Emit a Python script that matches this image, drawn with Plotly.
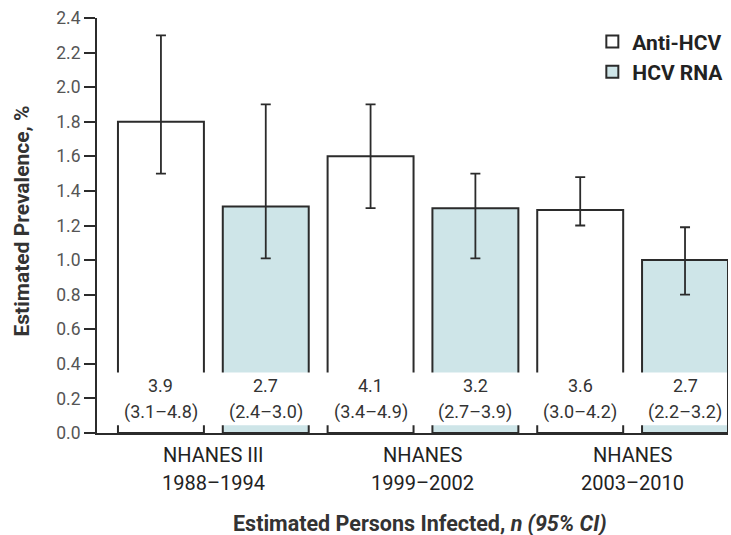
import plotly.graph_objects as go

group_names = ["NHANES III", "NHANES", "NHANES"]
group_years = ["1988–1994", "1999–2002", "2003–2010"]
groups = [f"{n} {y}" for n, y in zip(group_names, group_years)]
anti_hcv = [1.8, 1.6, 1.29]
anti_hcv_hi = [2.3, 1.9, 1.48]
anti_hcv_lo = [1.5, 1.3, 1.2]
hcv_rna = [1.31, 1.3, 1.0]
hcv_rna_hi = [1.9, 1.5, 1.19]
hcv_rna_lo = [1.01, 1.01, 0.8]
anti_n = ["3.9", "4.1", "3.6"]
anti_ci = ["(3.1–4.8)", "(3.4–4.9)", "(3.0–4.2)"]
rna_n = ["2.7", "3.2", "2.7"]
rna_ci = ["(2.4–3.0)", "(2.7–3.9)", "(2.2–3.2)"]
y_ticks = [0.0, 0.2, 0.4, 0.6, 0.8, 1.0, 1.2, 1.4, 1.6, 1.8, 2.0, 2.2, 2.4]

FONT = "Roboto"
DARK = "#2b2b2b"
BLUE = "rgb(206,229,232)"

fig = go.Figure()
fig.add_trace(go.Bar(
    name="Anti-HCV", x=groups, y=anti_hcv, legendgroup="a",
    marker=dict(color="white", line=dict(color=DARK, width=2)),
    error_y=dict(type="data", symmetric=False,
                 array=[h - v for h, v in zip(anti_hcv_hi, anti_hcv)],
                 arrayminus=[v - l for v, l in zip(anti_hcv, anti_hcv_lo)],
                 color=DARK, thickness=1.8, width=5),
))
fig.add_trace(go.Bar(
    name="HCV RNA", x=groups, y=hcv_rna, legendgroup="b",
    marker=dict(color=BLUE, line=dict(color=DARK, width=2)),
    error_y=dict(type="data", symmetric=False,
                 array=[h - v for h, v in zip(hcv_rna_hi, hcv_rna)],
                 arrayminus=[v - l for v, l in zip(hcv_rna, hcv_rna_lo)],
                 color=DARK, thickness=1.8, width=5),
))

# white band behind the count labels
fig.add_shape(type="rect", xref="x", yref="y", x0=-0.5, x1=2.45, y0=0.045, y1=0.35,
              fillcolor="white", line=dict(width=0), layer="above")

annotations = []
off = 0.25
for i in range(3):
    for dx, n, ci in ((-off, anti_n[i], anti_ci[i]), (off, rna_n[i], rna_ci[i])):
        annotations.append(dict(x=i + dx, y=0.272, xref="x", yref="y", text=n, showarrow=False,
                                font=dict(family=FONT, size=18, color="#333")))
        annotations.append(dict(x=i + dx, y=0.121, xref="x", yref="y", text=ci, showarrow=False,
                                font=dict(family=FONT, size=18, color="#333")))
    annotations.append(dict(x=groups[i], xref="x", y=-0.053, yref="paper", yanchor="middle",
                            text=group_names[i], showarrow=False,
                            font=dict(family=FONT, size=20, color="#222")))
    annotations.append(dict(x=groups[i], xref="x", y=-0.1205, yref="paper", yanchor="middle",
                            text=group_years[i], showarrow=False,
                            font=dict(family=FONT, size=20, color="#222")))
annotations.append(dict(x=0.512, xref="paper", y=-0.217, yref="paper", yanchor="middle",
                        text="<b>Estimated Persons Infected, <i>n (95% CI)</i></b>", showarrow=False,
                        font=dict(family=FONT, size=21.5, color="#333")))
annotations.append(dict(x=-0.1204, xref="paper", y=0.5096, yref="paper", xanchor="center",
                        yanchor="middle", textangle=-90,
                        text="<b>Estimated Prevalence, %</b>", showarrow=False,
                        font=dict(family=FONT, size=21, color="#333")))
fig.update_layout(annotations=annotations)

fig.update_layout(
    width=731, height=535,
    margin=dict(l=97, r=3, t=18, b=102),
    paper_bgcolor="white", plot_bgcolor="white",
    barmode="group", bargap=0.0, bargroupgap=0.18,
    font=dict(family=FONT, color="#333"),
    showlegend=True,
    legend=dict(x=0.785, y=0.992, xanchor="left", yanchor="top",
                font=dict(family=FONT, size=21, color="#222", weight="bold"),
                tracegroupgap=0, bgcolor="rgba(0,0,0,0)"),
    xaxis=dict(range=[-0.555, 2.455], showline=True, linecolor=DARK, linewidth=2,
               ticks="", showticklabels=False, showgrid=False, zeroline=False),
    yaxis=dict(range=[0, 2.4], tickvals=y_ticks, ticktext=[f"{v:.1f}" for v in y_ticks],
               showline=True, linecolor=DARK, linewidth=2, ticks="outside", ticklen=11,
               tickcolor=DARK, tickwidth=1.5, showgrid=False, zeroline=False,
               tickfont=dict(family=FONT, size=17.5, color="#555")),
)

fig.write_html("out.html")
